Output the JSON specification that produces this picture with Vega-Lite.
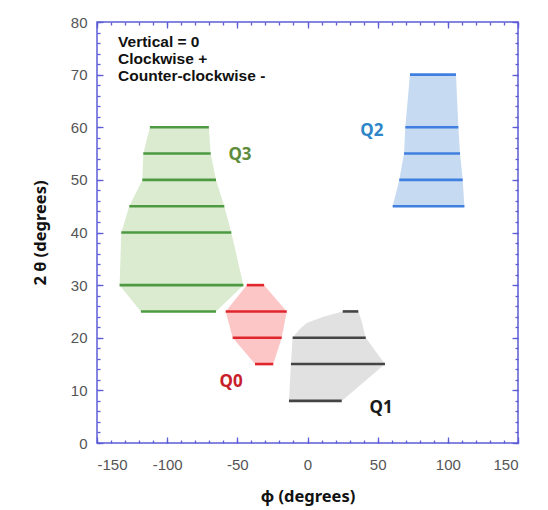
{
  "$schema": "https://vega.github.io/schema/vega-lite/v6.json",
  "width": 421,
  "height": 421,
  "autosize": "none",
  "padding": {"left": 97, "top": 22, "right": 30, "bottom": 67},
  "background": "white",
  "config": {
    "view": {"stroke": "#5c5cd8", "strokeWidth": 1.5},
    "axis": {
      "domain": false,
      "grid": false,
      "tickColor": "#5c5cd8",
      "tickWidth": 1.3,
      "labelColor": "#555555",
      "labelFont": "Liberation Sans",
      "labelFontSize": 15,
      "titleFont": "Noto Sans",
      "titleFontSize": 16.5,
      "titleFontWeight": "bold",
      "titleColor": "#111111"
    }
  },
  "datasets": {
    "regions": [
      {"group": "Q3", "y": 25, "lo": -118.7, "hi": -65.2, "seg": true},
      {"group": "Q3", "y": 30, "lo": -133.9, "hi": -45.7, "seg": true},
      {"group": "Q3", "y": 40, "lo": -132.7, "hi": -54.3, "seg": true},
      {"group": "Q3", "y": 45, "lo": -127, "hi": -59.3, "seg": true},
      {"group": "Q3", "y": 50, "lo": -117.7, "hi": -65.2, "seg": true},
      {"group": "Q3", "y": 55, "lo": -117, "hi": -69, "seg": true},
      {"group": "Q3", "y": 60, "lo": -112.3, "hi": -70.3, "seg": true},
      {"group": "Q0", "y": 15, "lo": -37.4, "hi": -24.4, "seg": true},
      {"group": "Q0", "y": 20, "lo": -53.3, "hi": -18.4, "seg": true},
      {"group": "Q0", "y": 25, "lo": -58.3, "hi": -14.8, "seg": true},
      {"group": "Q0", "y": 30, "lo": -43.3, "hi": -30.9, "seg": true},
      {"group": "Q1", "y": 8, "lo": -13.2, "hi": 24.4, "seg": true},
      {"group": "Q1", "y": 15, "lo": -11.8, "hi": 55.2, "seg": true},
      {"group": "Q1", "y": 20, "lo": -10.6, "hi": 41.5, "seg": true},
      {"group": "Q1", "y": 21.5, "lo": -6, "hi": 40, "seg": false},
      {"group": "Q1", "y": 22.8, "lo": -0.6, "hi": 39, "seg": false},
      {"group": "Q1", "y": 24, "lo": 11.3, "hi": 37.5, "seg": false},
      {"group": "Q1", "y": 25, "lo": 25.1, "hi": 36.2, "seg": true},
      {"group": "Q2", "y": 45, "lo": 60.7, "hi": 111.8, "seg": true},
      {"group": "Q2", "y": 50, "lo": 65.4, "hi": 110.6, "seg": true},
      {"group": "Q2", "y": 55, "lo": 68.8, "hi": 108.7, "seg": true},
      {"group": "Q2", "y": 60, "lo": 69.7, "hi": 107.5, "seg": true},
      {"group": "Q2", "y": 70, "lo": 73, "hi": 105.8, "seg": true}
    ]
  },
  "resolve": {"axis": {"x": "independent", "y": "independent"}, "scale": {"color": "independent"}},
  "layer": [
    {
      "data": {"name": "regions"},
      "mark": {"type": "area", "orient": "horizontal", "opacity": 0.85},
      "encoding": {
        "y": {
          "field": "y", "type": "quantitative",
          "scale": {"domain": [0, 80], "nice": false, "zero": false},
          "axis": {"orient": "left", "values": [0, 10, 20, 30, 40, 50, 60, 70, 80], "tickSize": -6, "labelPadding": 16, "title": "2 θ (degrees)", "titlePadding": 22}
        },
        "x": {
          "field": "lo", "type": "quantitative",
          "scale": {"domain": [-150, 150], "nice": false, "zero": false},
          "axis": {"orient": "bottom", "values": [-150, -100, -50, 0, 50, 100, 150], "tickSize": -6, "labelPadding": 20, "labelExpr": "datum.value < 0 ? '-' + abs(datum.value) : '' + datum.value", "title": "ϕ (degrees)", "titlePadding": 16}
        },
        "x2": {"field": "hi"},
        "color": {
          "field": "group", "type": "nominal", "legend": null,
          "scale": {"domain": ["Q3", "Q0", "Q1", "Q2"], "range": ["#d3e8c8", "#fbbcbc", "#dcdcdc", "#bcd4ee"]}
        }
      }
    },
    {
      "data": {"name": "regions"},
      "transform": [{"filter": "datum.seg"}],
      "mark": {"type": "rule", "strokeWidth": 2.6},
      "encoding": {
        "x": {
          "field": "lo", "type": "quantitative",
          "axis": {"orient": "bottom", "values": [-150, -140, -130, -120, -110, -100, -90, -80, -70, -60, -50, -40, -30, -20, -10, 0, 10, 20, 30, 40, 50, 60, 70, 80, 90, 100, 110, 120, 130, 140, 150], "tickSize": -3, "labels": false, "title": null}
        },
        "x2": {"field": "hi"},
        "y": {
          "field": "y", "type": "quantitative",
          "axis": {"orient": "left", "values": [0, 2, 4, 6, 8, 10, 12, 14, 16, 18, 20, 22, 24, 26, 28, 30, 32, 34, 36, 38, 40, 42, 44, 46, 48, 50, 52, 54, 56, 58, 60, 62, 64, 66, 68, 70, 72, 74, 76, 78, 80], "tickSize": -3, "labels": false, "title": null}
        },
        "stroke": {
          "field": "group", "type": "nominal", "legend": null,
          "scale": {"domain": ["Q3", "Q0", "Q1", "Q2"], "range": ["#4e9a42", "#e0262c", "#444444", "#3f7fe0"]}
        }
      }
    },
    {
      "data": {"values": [
        {"label": "Q3", "x": -48.1, "y": 54.8},
        {"label": "Q2", "x": 45.9, "y": 59.3},
        {"label": "Q0", "x": -54.5, "y": 11.6},
        {"label": "Q1", "x": 52.4, "y": 6.6}
      ]},
      "mark": {"type": "text", "font": "Noto Sans", "fontSize": 17, "fontWeight": "bold", "align": "center", "baseline": "middle"},
      "encoding": {
        "x": {"field": "x", "type": "quantitative", "axis": {"orient": "top", "values": [-150, -100, -50, 0, 50, 100, 150], "tickSize": -6, "labels": false, "title": null}},
        "y": {"field": "y", "type": "quantitative", "axis": {"orient": "right", "values": [0, 10, 20, 30, 40, 50, 60, 70, 80], "tickSize": -6, "labels": false, "title": null}},
        "text": {"field": "label"},
        "fill": {
          "field": "label", "type": "nominal", "legend": null,
          "scale": {"domain": ["Q3", "Q0", "Q1", "Q2"], "range": ["#5e8c3c", "#c8202a", "#1a1a1a", "#2e86c8"]}
        }
      }
    },
    {
      "data": {"values": [
        {"line": "Vertical = 0", "x": -135, "y": 76.2},
        {"line": "Clockwise +", "x": -135, "y": 73},
        {"line": "Counter-clockwise -", "x": -135, "y": 69.8}
      ]},
      "mark": {"type": "text", "font": "Liberation Sans", "fontSize": 15.5, "fontWeight": "bold", "align": "left", "baseline": "middle", "color": "#111111"},
      "encoding": {
        "x": {"field": "x", "type": "quantitative", "axis": {"orient": "top", "values": [-150, -140, -130, -120, -110, -100, -90, -80, -70, -60, -50, -40, -30, -20, -10, 0, 10, 20, 30, 40, 50, 60, 70, 80, 90, 100, 110, 120, 130, 140, 150], "tickSize": -3, "labels": false, "title": null}},
        "y": {"field": "y", "type": "quantitative", "axis": {"orient": "right", "values": [0, 2, 4, 6, 8, 10, 12, 14, 16, 18, 20, 22, 24, 26, 28, 30, 32, 34, 36, 38, 40, 42, 44, 46, 48, 50, 52, 54, 56, 58, 60, 62, 64, 66, 68, 70, 72, 74, 76, 78, 80], "tickSize": -3, "labels": false, "title": null}},
        "text": {"field": "line"}
      }
    }
  ]
}
